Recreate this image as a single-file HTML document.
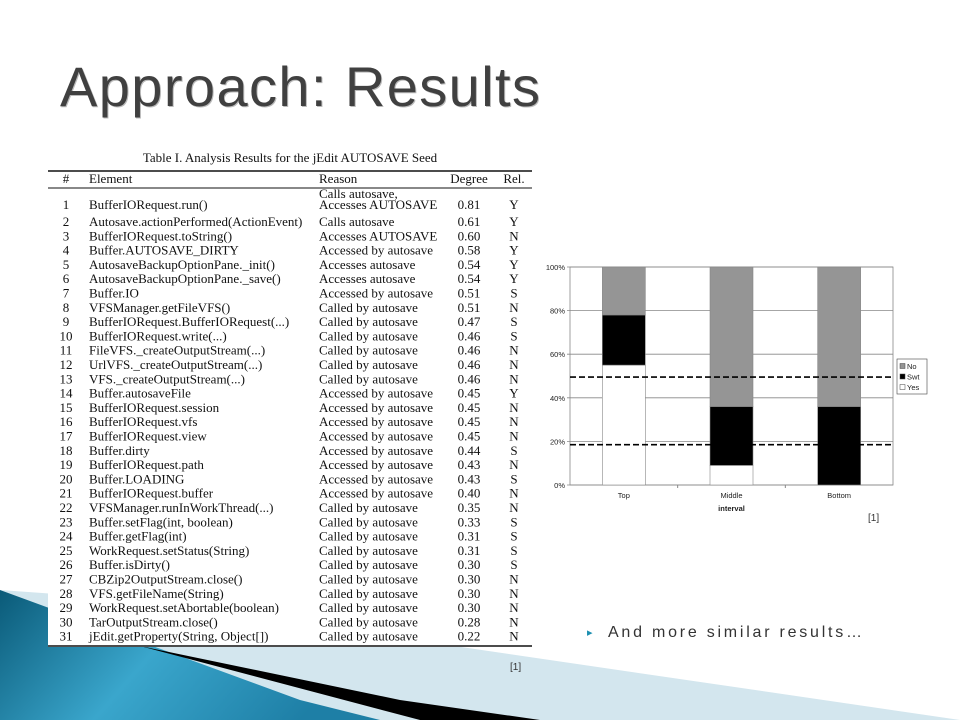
<!DOCTYPE html>
<html><head><meta charset="utf-8"><style>
body{margin:0;background:#fff;width:960px;height:720px;overflow:hidden}
svg{display:block}
.t{font-family:"Liberation Serif",serif;font-size:13px;fill:#111}
.c{font-family:"Liberation Sans",sans-serif;font-size:7.5px;fill:#222}
</style></head><body>
<svg width="960" height="720" viewBox="0 0 960 720">
<defs><linearGradient id="bg" x1="0" y1="0" x2="1" y2="0.3"><stop offset="0" stop-color="#0a5a78"/><stop offset="0.5" stop-color="#3aa6cc"/><stop offset="1" stop-color="#1e7fa6"/></linearGradient></defs>
<g>
<polygon points="0,590 140,600 960,720 0,720" fill="#d3e6ee"/>
<polygon points="0,590 300,700 380,720 0,720" fill="url(#bg)"/>
<polygon points="140,646 400,700 540,720 420,720" fill="#000"/>
</g>
<rect x="48" y="140" width="485" height="507" fill="#fff"/>
<text x="61" y="107" font-family="'Liberation Sans',sans-serif" font-size="56" fill="#bbb" textLength="480">Approach: Results</text>
<text x="60" y="106" font-family="'Liberation Sans',sans-serif" font-size="56" fill="#404040" textLength="480">Approach: Results</text>
<g id="table"></g>
<text x="510" y="670" font-family="'Liberation Sans',sans-serif" font-size="10" fill="#333">[1]</text>
<g id="chart"></g>
<text x="868" y="521" font-family="'Liberation Sans',sans-serif" font-size="10" fill="#333">[1]</text>
<text x="587" y="636" font-family="'DejaVu Sans',sans-serif" font-size="11" fill="#1b8fb0">▸</text>
<text x="608" y="637" font-family="'Liberation Sans',sans-serif" font-size="16" fill="#333" textLength="254">And more similar results…</text>
</svg>
<script>
const rows=[
["1","BufferIORequest.run()","Accesses AUTOSAVE","0.81","Y"],
["2","Autosave.actionPerformed(ActionEvent)","Calls autosave","0.61","Y"],
["3","BufferIORequest.toString()","Accesses AUTOSAVE","0.60","N"],
["4","Buffer.AUTOSAVE_DIRTY","Accessed by autosave","0.58","Y"],
["5","AutosaveBackupOptionPane._init()","Accesses autosave","0.54","Y"],
["6","AutosaveBackupOptionPane._save()","Accesses autosave","0.54","Y"],
["7","Buffer.IO","Accessed by autosave","0.51","S"],
["8","VFSManager.getFileVFS()","Called by autosave","0.51","N"],
["9","BufferIORequest.BufferIORequest(...)","Called by autosave","0.47","S"],
["10","BufferIORequest.write(...)","Called by autosave","0.46","S"],
["11","FileVFS._createOutputStream(...)","Called by autosave","0.46","N"],
["12","UrlVFS._createOutputStream(...)","Called by autosave","0.46","N"],
["13","VFS._createOutputStream(...)","Called by autosave","0.46","N"],
["14","Buffer.autosaveFile","Accessed by autosave","0.45","Y"],
["15","BufferIORequest.session","Accessed by autosave","0.45","N"],
["16","BufferIORequest.vfs","Accessed by autosave","0.45","N"],
["17","BufferIORequest.view","Accessed by autosave","0.45","N"],
["18","Buffer.dirty","Accessed by autosave","0.44","S"],
["19","BufferIORequest.path","Accessed by autosave","0.43","N"],
["20","Buffer.LOADING","Accessed by autosave","0.43","S"],
["21","BufferIORequest.buffer","Accessed by autosave","0.40","N"],
["22","VFSManager.runInWorkThread(...)","Called by autosave","0.35","N"],
["23","Buffer.setFlag(int, boolean)","Called by autosave","0.33","S"],
["24","Buffer.getFlag(int)","Called by autosave","0.31","S"],
["25","WorkRequest.setStatus(String)","Called by autosave","0.31","S"],
["26","Buffer.isDirty()","Called by autosave","0.30","S"],
["27","CBZip2OutputStream.close()","Called by autosave","0.30","N"],
["28","VFS.getFileName(String)","Called by autosave","0.30","N"],
["29","WorkRequest.setAbortable(boolean)","Called by autosave","0.30","N"],
["30","TarOutputStream.close()","Called by autosave","0.28","N"],
["31","jEdit.getProperty(String, Object[])","Called by autosave","0.22","N"]];
const NS="http://www.w3.org/2000/svg";
function mk(p,tag,a,txt){const e=document.createElementNS(NS,tag);for(const k in a)e.setAttribute(k,a[k]);if(txt!=null)e.textContent=txt;p.appendChild(e);return e;}
const tb=document.getElementById('table');
let e=mk(tb,'text',{x:290,y:162,'text-anchor':'middle',class:'t','font-size':'12.5'},'Table I.  Analysis Results for the jEdit AUTOSAVE Seed');


mk(tb,'line',{x1:48,x2:532,y1:171,y2:171,stroke:'#111','stroke-width':1.5});
mk(tb,'line',{x1:48,x2:532,y1:188,y2:188,stroke:'#111','stroke-width':1});
mk(tb,'line',{x1:48,x2:532,y1:646,y2:646,stroke:'#111','stroke-width':1.5});
const hx=[[66,'#','middle'],[89,'Element','start'],[319,'Reason','start'],[469,'Degree','middle'],[514,'Rel.','middle']];
hx.forEach(h=>{const t=mk(tb,'text',{x:h[0],y:183,'text-anchor':h[2],class:'t','font-size':'12'},h[1]);

});
mk(tb,'text',{x:319,y:198,class:'t'},'Calls autosave,');
rows.forEach((r,i)=>{const y=i==0?209:222+(i-1)*14.3+4;
const g=mk(tb,'g',{});


mk(g,'text',{x:66,y:y,'text-anchor':'middle',class:'t'},r[0]);
mk(g,'text',{x:89,y:y,class:'t'},r[1]);
mk(g,'text',{x:319,y:y,class:'t'},r[2]);
mk(g,'text',{x:469,y:y,'text-anchor':'middle',class:'t'},r[3]);
mk(g,'text',{x:514,y:y,'text-anchor':'middle',class:'t'},r[4]);});

// chart data
const categories=["Top","Middle","Bottom"];
const yesVals=[55,9,0];
const swtVals=[23,27,36];
const noVals=[22,64,64];
const yTicks=[0,20,40,60,80,100];
const dashedLevels=[49.5,18.5];
const ch=document.getElementById('chart');
const X0=570,X1=893,Y0=485,Y1=267;
const ys=v=>Y0-(v/100)*(Y0-Y1);
const band=(X1-X0)/categories.length;
const xc=i=>X0+band*(i+0.5);
const bw=43;
mk(ch,'rect',{x:X0,y:Y1,width:X1-X0,height:Y0-Y1,fill:'#fff',stroke:'#888','stroke-width':0.8});
yTicks.forEach(t=>{mk(ch,'line',{x1:X0-3,x2:X1,y1:ys(t),y2:ys(t),stroke:'#888','stroke-width':0.8});
const l=mk(ch,'text',{x:X0-5,y:ys(t)+3,'text-anchor':'end',class:'c'},t+'%');

});
for(let i=1;i<categories.length;i++)mk(ch,'line',{x1:X0+band*i,x2:X0+band*i,y1:Y0,y2:Y0+3,stroke:'#888'});
categories.forEach((c,i)=>{const x=xc(i)-bw/2;
const segs=[[yesVals[i],'#fff','bar-yes'],[swtVals[i],'#000','bar-swt'],[noVals[i],'#959595','bar-no']];
let base=0;segs.forEach(s=>{const r=mk(ch,'rect',{x:x,y:ys(base+s[0]),width:bw,height:ys(base)-ys(base+s[0]),fill:s[1],stroke:'#888','stroke-width':0.6});


base+=s[0];});
const l=mk(ch,'text',{x:xc(i),y:498,'text-anchor':'middle',class:'c'},c);

});
e=mk(ch,'text',{x:xc(1),y:511,'text-anchor':'middle',class:'c','font-weight':'bold'},'interval');


dashedLevels.forEach(v=>{const d=mk(ch,'line',{x1:X0,x2:X1,y1:ys(v),y2:ys(v),stroke:'#000','stroke-width':1.6,'stroke-dasharray':'6,3'});

});
const lg=mk(ch,'g',{});


mk(lg,'rect',{x:897,y:359,width:30,height:35,fill:'#fff',stroke:'#444','stroke-width':0.6});
[['No','#959595'],['Swt','#000'],['Yes','#fff']].forEach((s,i)=>{const y=362+i*10.5;
const it=mk(lg,'g',{});


mk(it,'rect',{x:900,y:y+1.5,width:5,height:5,fill:s[1],stroke:'#444','stroke-width':0.5});
mk(it,'text',{x:907,y:y+7,class:'c','font-size':'8'},s[0]);});
</script>
</body></html>
